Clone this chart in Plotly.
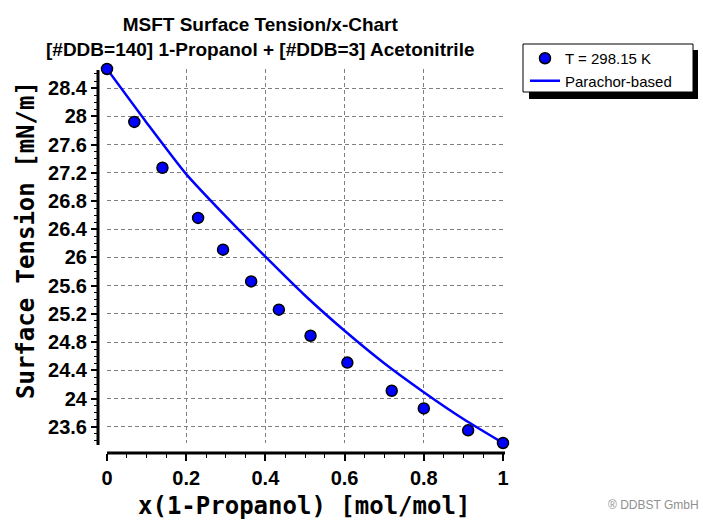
import plotly.graph_objects as go

W, H = 703, 523

# Experimental data (T = 298.15 K)
x_exp = [0.0, 0.069, 0.140, 0.230, 0.293, 0.364, 0.434, 0.514, 0.607, 0.719, 0.800, 0.912, 1.0]
y_exp = [28.67, 27.92, 27.27, 26.56, 26.11, 25.66, 25.26, 24.89, 24.51, 24.11, 23.86, 23.55, 23.37]

# Parachor-based calculation
x_calc = [0.0, 0.1, 0.2, 0.3, 0.4, 0.5, 0.6, 0.7, 0.8, 0.9, 1.0]
y_calc = [28.67, 27.91, 27.18, 26.58, 26.01, 25.46, 24.96, 24.50, 24.09, 23.71, 23.37]

title_text = "MSFT Surface Tension/x-Chart<br>[#DDB=140] 1-Propanol + [#DDB=3] Acetonitrile"
x_title = "x(1-Propanol) [mol/mol]"
y_title = "Surface Tension [mN/m]"


def px(v):
    return v / W


def py(v):
    return 1 - v / H


XDOM = [px(107), px(503)]
YDOM = [py(443), py(69)]
YRANGE = [min(y_exp), max(y_exp)]

fig = go.Figure()
fig.add_trace(go.Scatter(
    x=x_calc, y=y_calc, mode="lines", name="Parachor-based",
    line=dict(color="#0000FF", width=2.5, shape="spline", smoothing=0.6),
    legendrank=2, cliponaxis=False,
))
fig.add_trace(go.Scatter(
    x=x_exp, y=y_exp, mode="markers", name="T = 298.15 K",
    marker=dict(color="#0000FF", size=11, line=dict(color="black", width=1.5)),
    legendrank=1, cliponaxis=False,
))

tickfont = dict(family="Liberation Sans", size=20, color="black", weight="bold")
common = dict(
    showline=False,
    ticks="outside", ticklen=7, tickwidth=1.5, tickcolor="black",
    showgrid=True, gridcolor="#808080", griddash="4px,3px", gridwidth=1,
    zeroline=False, tickfont=tickfont, automargin=False, anchor="free",
)
frame = dict(
    showline=True, mirror=True, linewidth=1.5, linecolor="black",
    ticks="", showticklabels=False, showgrid=False, zeroline=False,
    automargin=False, layer="below traces",
)

fig.update_layout(
    template="none",
    width=W, height=H,
    margin=dict(l=0, r=0, t=0, b=0),
    paper_bgcolor="white", plot_bgcolor="white",
    showlegend=True,
    xaxis=dict(
        domain=XDOM, range=[0, 1], position=py(453),
        tick0=0, dtick=0.2,
        minor=dict(dtick=0.05, ticks="outside", ticklen=4, tickcolor="black", tickwidth=1, showgrid=False),
        **common,
    ),
    yaxis=dict(
        domain=YDOM, range=YRANGE, position=px(98),
        tick0=23.6, dtick=0.4,
        minor=dict(dtick=0.1, ticks="outside", ticklen=4, tickcolor="black", tickwidth=1, showgrid=False),
        **common,
    ),
    xaxis2=dict(domain=XDOM, range=[0, 1], anchor="y2", overlaying="x", **frame),
    yaxis2=dict(domain=YDOM, range=YRANGE, anchor="x2", overlaying="y", **frame),
    legend=dict(
        x=px(525), y=py(42), xanchor="left", yanchor="top",
        bgcolor="rgba(0,0,0,0)", borderwidth=0,
        font=dict(family="Liberation Sans", size=15, color="black"),
        itemwidth=30, tracegroupgap=0,
    ),
    shapes=[
        # offset axis lines
        dict(type="line", xref="paper", yref="paper", x0=px(98), x1=px(98), y0=py(70), y1=py(445),
             line=dict(color="black", width=3), layer="above"),
        dict(type="line", xref="paper", yref="paper", x0=px(107), x1=px(505), y0=py(453), y1=py(453),
             line=dict(color="black", width=3), layer="above"),
        # legend shadow and box
        dict(type="rect", xref="paper", yref="paper", x0=px(529), x1=px(698), y0=py(99), y1=py(50),
             fillcolor="black", line=dict(width=0), layer="above"),
        dict(type="rect", xref="paper", yref="paper", x0=px(523), x1=px(693), y0=py(92), y1=py(44),
             fillcolor="white", line=dict(color="black", width=1), layer="above"),
    ],
    annotations=[
        dict(text=title_text, x=px(260), y=py(37), xref="paper", yref="paper",
             xanchor="center", yanchor="middle", showarrow=False, align="center",
             font=dict(family="Liberation Sans", size=19, color="black", weight="bold")),
        dict(text=x_title, x=px(304), y=py(506), xref="paper", yref="paper",
             xanchor="center", yanchor="middle", showarrow=False,
             font=dict(family="DejaVu Sans Mono", size=24, color="black", weight="bold")),
        dict(text=y_title, x=px(26), y=py(240), xref="paper", yref="paper",
             xanchor="center", yanchor="middle", showarrow=False, textangle=-90,
             font=dict(family="DejaVu Sans Mono", size=24, color="black", weight="bold")),
        dict(text="® DDBST GmbH", x=px(701), y=py(505), xref="paper", yref="paper",
             xanchor="right", yanchor="middle", showarrow=False,
             font=dict(family="Liberation Sans", size=12, color="#909090")),
    ],
)

fig.write_html("out.html", config={"displayModeBar": False},
               post_script="document.body.style.margin='0px';")
